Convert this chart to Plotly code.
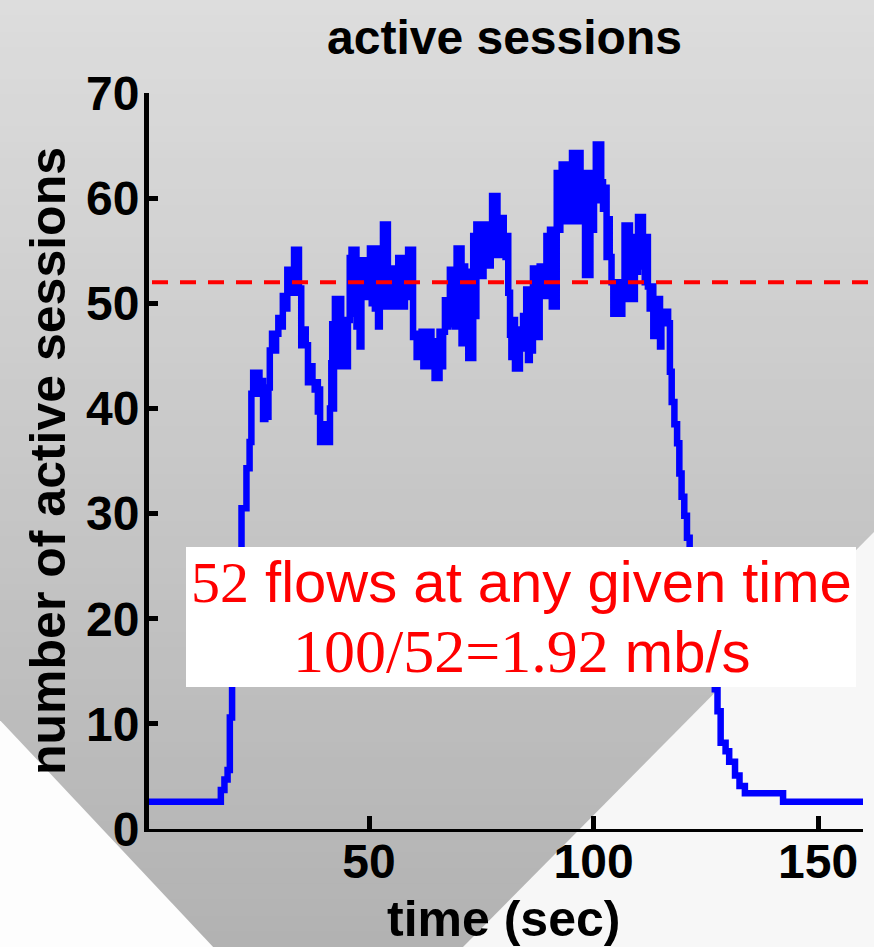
import plotly.graph_objects as go

# ---- data: number of concurrently active sessions over time ----
time_s = [
    1.0, 17.0, 17.8, 18.5, 19.0, 19.5, 20.0, 20.5, 21.0, 21.6, 22.7, 23.4, 23.8, 24.2, 24.8, 25.2,
    25.6, 26.0, 26.4, 26.9, 27.2, 27.6, 27.9, 28.4, 28.9, 29.3, 29.8, 30.3, 30.8, 31.3, 31.8, 32.2,
    32.6, 33.0, 33.3, 33.7, 34.0, 34.4, 34.9, 35.4, 35.9, 36.4, 36.9, 37.4, 37.9, 38.3, 38.6, 38.9,
    39.1, 39.6, 40.0, 40.5, 41.0, 41.3, 41.6, 41.8, 42.0, 42.2, 42.4, 42.7, 43.0, 43.3, 43.6, 43.8,
    44.2, 44.5, 44.9, 45.3, 45.7, 46.1, 46.5, 46.8, 47.2, 47.6, 47.9, 48.3, 48.7, 49.1, 49.5, 49.9,
    50.2, 50.6, 50.9, 51.3, 51.6, 52.0, 52.4, 52.8, 53.1, 53.5, 53.9, 54.2, 54.6, 55.0, 55.4, 55.8,
    56.2, 56.5, 56.9, 57.3, 57.7, 58.0, 58.3, 58.7, 59.1, 59.4, 59.8, 60.2, 60.6, 61.0, 61.3, 61.7,
    62.1, 62.5, 62.9, 63.2, 63.5, 63.9, 64.3, 64.6, 65.0, 65.4, 65.7, 66.1, 66.5, 66.9, 67.3, 67.6,
    68.0, 68.4, 68.7, 69.1, 69.5, 69.9, 70.3, 70.6, 71.0, 71.4, 71.7, 72.1, 72.5, 72.8, 73.2, 73.5,
    73.9, 74.3, 74.7, 75.1, 75.5, 75.9, 76.3, 76.7, 77.1, 77.4, 77.8, 78.2, 78.6, 78.9, 79.3, 79.7,
    80.0, 80.4, 80.8, 81.0, 81.4, 81.7, 82.1, 82.5, 82.9, 83.3, 83.6, 83.9, 84.3, 84.7, 85.0, 85.4,
    85.8, 86.2, 86.5, 86.9, 87.3, 87.7, 88.0, 88.4, 88.8, 89.2, 89.5, 89.9, 90.3, 90.7, 91.1, 91.5,
    91.8, 92.2, 92.6, 92.9, 93.3, 93.7, 94.1, 94.5, 94.8, 95.2, 95.6, 96.0, 96.4, 96.7, 97.1, 97.5,
    97.8, 98.1, 98.5, 98.9, 99.3, 99.7, 100.1, 100.5, 100.9, 101.3, 101.7, 102.1, 102.5, 102.9, 103.2, 103.6,
    104.0, 104.4, 104.8, 105.2, 105.6, 106.0, 106.4, 106.9, 107.3, 107.7, 108.1, 108.5, 108.9, 109.2, 109.6, 109.9,
    110.3, 110.7, 111.0, 111.4, 111.8, 112.1, 112.5, 112.9, 113.3, 113.7, 114.0, 114.4, 114.8, 115.1, 115.5, 116.0,
    116.6, 117.0, 117.4, 118.0, 118.6, 119.1, 119.6, 120.2, 120.8, 121.4, 122.2, 123.0, 124.0, 125.0, 126.0, 127.0,
    127.6, 128.3, 129.4, 130.2, 131.5, 132.5, 133.7, 142.2, 160.0,
]
active_sessions = [
    2.6, 3.7, 4.7, 5.6, 10.6, 14.0, 18.0, 22.0, 26.0, 30.5, 34.3, 36.8, 41.4, 43.4, 41.8, 43.4,
    41.4, 42.6, 39.0, 41.5, 39.2, 42.0, 45.5, 47.1, 45.5, 47.1, 48.6, 47.8, 50.7, 49.5, 53.2, 51.0,
    53.2, 52.0, 55.1, 51.0, 55.1, 51.4, 46.0, 47.5, 46.0, 42.5, 44.0, 42.5, 41.8, 42.5, 39.7, 41.8,
    36.8, 38.5, 36.8, 38.0, 36.8, 40.0, 44.3, 48.0, 40.0, 48.0, 50.4, 46.0, 50.4, 44.0, 50.4, 48.4,
    44.0, 48.4, 44.0, 48.4, 54.3, 55.1, 49.0, 55.1, 47.8, 54.1, 45.9, 54.1, 50.6, 54.1, 50.6, 54.1,
    55.2, 50.0, 55.2, 49.5, 55.2, 47.8, 55.1, 49.7, 57.5, 50.6, 57.5, 49.7, 53.3, 49.7, 53.3, 49.7,
    53.3, 54.3, 49.7, 54.3, 49.7, 54.3, 50.6, 55.1, 51.0, 55.1, 46.8, 47.1, 44.9, 47.1, 44.9, 47.3,
    44.0, 47.3, 44.0, 44.9, 47.3, 44.0, 46.4, 42.9, 46.4, 42.9, 47.3, 44.0, 47.3, 50.3, 47.8, 50.3,
    53.2, 48.0, 53.2, 47.8, 55.2, 49.7, 55.2, 46.2, 53.5, 46.2, 53.0, 44.8, 52.5, 44.8, 56.4, 48.8,
    57.5, 52.6, 57.5, 52.6, 57.5, 53.6, 57.5, 53.6, 57.5, 60.2, 54.6, 60.2, 54.6, 58.1, 54.6, 58.1,
    56.4, 54.4, 56.4, 51.0, 47.0, 44.9, 48.4, 43.8, 47.5, 43.8, 47.5, 45.7, 48.8, 45.7, 51.3, 44.6,
    51.3, 45.5, 53.3, 46.8, 53.3, 46.8, 53.5, 50.7, 53.5, 50.7, 56.4, 50.7, 57.0, 49.7, 57.0, 49.7,
    62.4, 57.0, 62.4, 63.2, 57.8, 63.2, 60.6, 57.8, 60.6, 64.3, 57.8, 64.3, 57.8, 64.3, 62.4, 58.3,
    62.4, 52.7, 58.3, 52.7, 62.4, 57.0, 62.4, 65.1, 59.8, 65.1, 61.5, 59.0, 61.0, 54.4, 58.0, 54.4,
    52.0, 49.0, 52.0, 49.0, 51.5, 49.0, 52.0, 57.4, 50.4, 57.4, 51.0, 56.3, 50.4, 55.5, 53.0, 58.2,
    53.5, 58.2, 56.3, 52.0, 56.3, 51.6, 49.5, 51.6, 46.9, 50.4, 46.9, 50.4, 45.9, 49.2, 48.1, 49.2,
    48.1, 43.5, 40.6, 38.5, 36.7, 33.8, 31.6, 29.8, 27.7, 26.0, 24.0, 21.0, 18.5, 16.5, 14.5, 13.3,
    11.2, 8.2, 7.4, 6.4, 5.1, 4.1, 3.4, 2.6, 2.6,
]

mean_flows = 52          # average number of simultaneous flows
link_rate = 100          # total rate shared by the flows (mb/s)
per_flow = link_rate / mean_flows

x_ticks = [50, 100, 150]
y_ticks = [0, 10, 20, 30, 40, 50, 60, 70]

# ---- page geometry (pixels) ----
W, H = 874, 947
ML, MR, MT, MB = 149, 11, 93, 118
PW, PH = W - ML - MR, H - MT - MB


def px(x):
    """pixel column -> paper x"""
    return (x - ML) / PW


def py(y):
    """pixel row (from top) -> paper y"""
    return (H - MB - y) / PH


SANS = "Liberation Sans"
SERIF = "Liberation Serif"

fig = go.Figure()
fig.add_trace(go.Scatter(
    x=time_s, y=active_sessions, mode="lines",
    line=dict(color="#0000ff", width=6.5, shape="hv"),
    hoverinfo="skip",
))

shapes = []
# vertical grey gradient behind the whole page
n_strips = 60
top_grey, bottom_grey = 221, 178
for i in range(n_strips):
    y0 = i * H / n_strips
    y1 = (i + 1) * H / n_strips + 1
    g = round(top_grey - (top_grey - bottom_grey) * (i + 0.5) / n_strips)
    shapes.append(dict(
        type="rect", xref="paper", yref="paper", layer="below",
        x0=px(-2), x1=px(W + 2), y0=py(y0), y1=py(y1),
        fillcolor=f"rgb({g},{g},{g})", line=dict(width=0),
    ))
# light corner cut-outs
shapes.append(dict(
    type="path", xref="paper", yref="paper", layer="below",
    path=f"M {px(-2)},{py(718)} L {px(215)},{py(949)} L {px(-2)},{py(949)} Z",
    fillcolor="#fdfdfd", line=dict(width=0),
))
shapes.append(dict(
    type="path", xref="paper", yref="paper", layer="below",
    path=f"M {px(876)},{py(530)} L {px(461)},{py(949)} L {px(876)},{py(949)} Z",
    fillcolor="#f7f7f7", line=dict(width=0),
))
# mean level
shapes.append(dict(
    type="line", xref="paper", yref="y", layer="above",
    x0=px(152), x1=px(W + 2), y0=mean_flows, y1=mean_flows,
    line=dict(color="#ff0000", width=4, dash="16px,12px"),
))
# white label box
shapes.append(dict(
    type="rect", xref="paper", yref="paper", layer="above",
    x0=px(186), x1=px(856), y0=py(687), y1=py(547),
    fillcolor="#ffffff", line=dict(width=0),
))

title_font = dict(family=SANS, size=48, color="#000000", weight="bold")
axis_title_font = dict(family=SANS, size=50, color="#000000", weight="bold")
red = dict(family=SANS, size=58, color="#ff0000")

math_span = f'<span style="font-family:{SERIF};font-size:62px">'
annotations = [
    dict(text="active sessions", x=px(504.5), y=py(37), xref="paper", yref="paper",
         xanchor="center", yanchor="middle", showarrow=False, font=title_font),
    dict(text="time (sec)", x=px(503), y=py(919), xref="paper", yref="paper",
         xanchor="center", yanchor="middle", showarrow=False, font=axis_title_font),
    dict(text="number of active sessions", x=px(47.5), y=py(461.5), xref="paper", yref="paper",
         xanchor="center", yanchor="middle", textangle=-90, showarrow=False, font=axis_title_font),
    dict(text=f'<span style="font-family:{SERIF}">{mean_flows}</span> flows at any given time',
         x=px(521), y=py(582), xref="paper", yref="paper",
         xanchor="center", yanchor="middle", showarrow=False, font=red),
    dict(text=f'{math_span}{link_rate}/{mean_flows}={per_flow:.2f}</span> mb/s',
         x=px(522), y=py(651), xref="paper", yref="paper",
         xanchor="center", yanchor="middle", showarrow=False, font=red),
]

axis_common = dict(
    showgrid=False, zeroline=False, showline=True, linecolor="#000000",
    ticks="inside", tickcolor="#000000",
    tickfont=dict(family=SANS, size=48, color="#000000", weight="bold"),
)

fig.update_layout(
    width=W, height=H,
    margin=dict(l=ML, r=MR, t=MT, b=MB, pad=0),
    paper_bgcolor="#ffffff", plot_bgcolor="rgba(0,0,0,0)",
    showlegend=False,
    shapes=shapes, annotations=annotations,
    xaxis=dict(range=[1, 160], tickvals=x_ticks, linewidth=3, ticklen=13, tickwidth=5,
               ticklabelstandoff=-12, **axis_common),
    yaxis=dict(range=[0, 70], tickvals=y_ticks, linewidth=5, ticklen=9, tickwidth=5,
               ticklabelstandoff=-5, **axis_common),
)

fig.write_html("out.html")
